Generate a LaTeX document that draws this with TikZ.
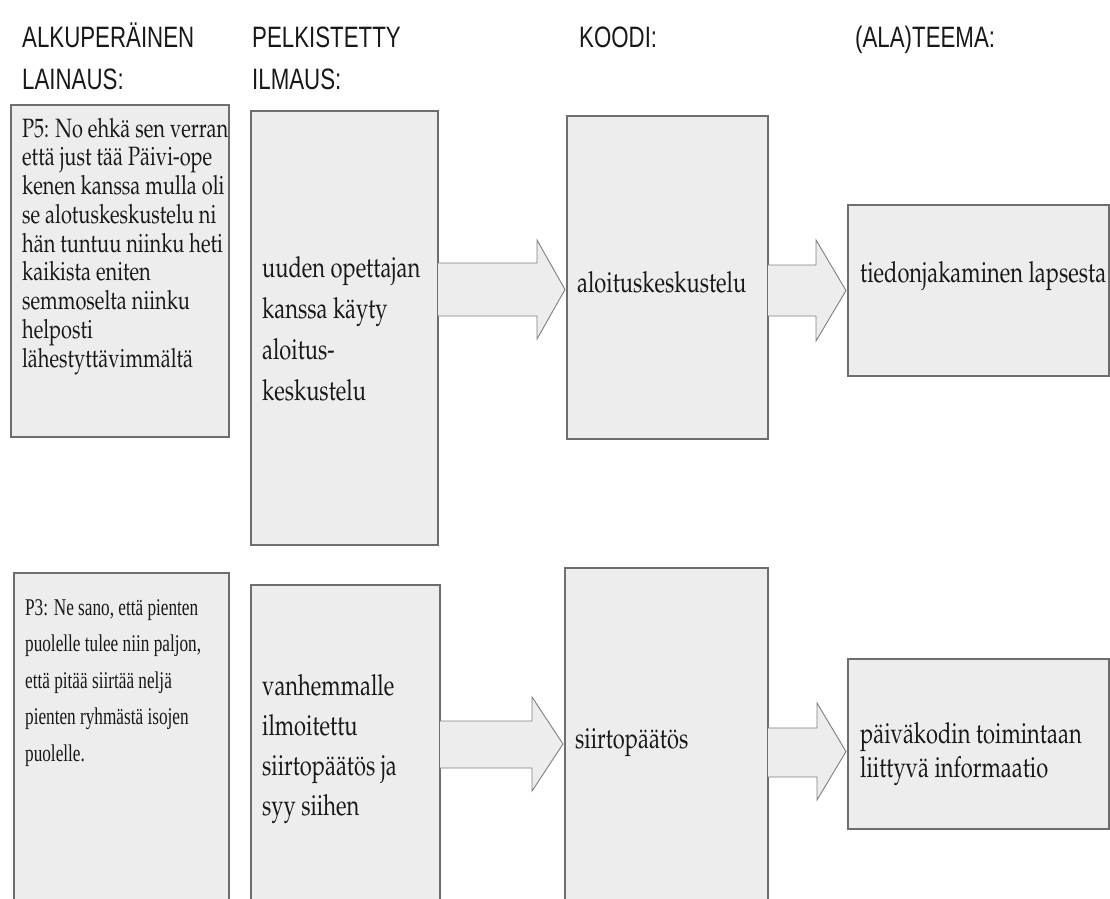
\documentclass[tikz,border=0pt]{standalone}
\usepackage{fontspec}
\usepackage[T1,TU]{fontenc}
\usetikzlibrary{calc}

% column headings: narrowed grotesque
\newfontfamily\headfont[FakeStretch=0.755]{Liberation Sans}
% second quotation: roman, a little narrower than the book face
\newfontfamily\quotefont[FakeStretch=0.95]{Liberation Serif}
% fallback roman for the cell texts
\newfontfamily\bookalt[FakeStretch=1.08]{Liberation Serif}
% Palatino-like book face for the cell texts (whichever is available)
\IfFileExists{t1ppl.fd}{\def\palfam{ppl}}{%
  \IfFileExists{t1qpl.fd}{\def\palfam{qpl}}{\def\palfam{}}}
\makeatletter
\ifx\palfam\@empty
  \newcommand\palfont[2]{\bookalt\fontsize{#1}{#2}\selectfont\lineskiplimit=-50pt}
\else
  \newcommand\palfont[2]{\fontencoding{T1}\fontfamily{\palfam}\fontsize{#1}{#2}\selectfont\lineskiplimit=-50pt}
\fi
\makeatother

\definecolor{boxfill}{HTML}{EDEDED}
\definecolor{boxline}{HTML}{6E6E6E}
\definecolor{arrowline}{HTML}{7F7F7F}
\definecolor{ink}{HTML}{181818}

\tikzset{
  cell/.style={draw=boxline, fill=boxfill, line width=1.3pt, rectangle,
    inner sep=0pt, outer sep=0pt, anchor=north west},
  flowarrow/.style={draw=arrowline, fill=boxfill, line width=0.9pt, line join=miter},
  heading/.style={anchor=north west, inner sep=0pt, align=left, text=ink,
    font=\headfont\fontsize{29.5}{42}\selectfont},
  celltext/.style={anchor=north west, inner sep=0pt, align=left, text=ink},
}

% a grey cell: name, left x, top y, width, height
\newcommand\cellbox[5]{\node[cell, minimum width=#4pt, minimum height=#5pt] (#1) at (#2,#3) {};}

% text of a cell, set narrow: name, font, left x, first baseline y, lines
\newcommand\celltext[5]{%
  \begin{scope}[shift={(#3,#4)}, xscale=0.755]
    \node[celltext, font=#2, transform shape] (#1) at (0,-30) {\rule{0pt}{30pt}#5};
  \end{scope}}

% block arrow from one cell to the next:
% from, to, shaft top, shaft bottom, head top, head bottom, head length
\newcommand\blockarrow[7]{%
  \draw[flowarrow] let \p1=(#1.east), \p2=(#2.west) in
    (\x1,-#3pt) -- (\x2-#7pt-2pt,-#3pt) -- (\x2-#7pt-2pt,-#5pt)
    -- (\x2-2pt,{-(#5+#6)/2*1pt}) -- (\x2-#7pt-2pt,-#6pt)
    -- (\x2-#7pt-2pt,-#4pt) -- (\x1,-#4pt);}

\begin{document}
\begin{tikzpicture}[x=1pt, y=-1pt]
\useasboundingbox (0,0) rectangle (1110,898);

% column headings
\node[heading] (h1) at (22,17)  {\rule{0pt}{30pt}ALKUPERÄINEN\\LAINAUS:};
\node[heading] (h2) at (252,17) {\rule{0pt}{30pt}PELKISTETTY\\ILMAUS:};
\node[heading] (h3) at (579,17) {\rule{0pt}{30pt}KOODI:};
\node[heading] (h4) at (855,17) {\rule{0pt}{30pt}(ALA)TEEMA:};

% first row
\cellbox{a1}{11}{105}{218}{332}
\cellbox{b1}{251}{111}{187}{434}
\cellbox{c1}{567}{116}{201}{323}
\cellbox{d1}{848}{205}{261}{171}

% second row (runs past the lower edge)
\cellbox{a2}{14}{573}{215}{340}
\cellbox{b2}{251}{585}{189}{330}
\cellbox{c2}{565}{568}{203}{345}
\cellbox{d2}{848}{659}{261}{170}

% arrows
\blockarrow{b1}{c1}{263}{316}{240}{339}{28}
\blockarrow{c1}{d1}{265}{316}{240}{341}{30}
\blockarrow{b2}{c2}{721}{768}{697}{791}{31}
\blockarrow{c2}{d2}{728}{777}{703}{800}{29}

% cell texts, first row
\celltext{a1t}{\palfont{26.5}{28.75}}{22}{137}{P5: No ehkä sen verran\\että just tää Päivi-ope\\kenen kanssa mulla oli\\se alotuskeskustelu ni\\hän tuntuu niinku heti\\kaikista eniten\\semmoselta niinku\\helposti\\lähestyttävimmältä}
\celltext{b1t}{\palfont{29}{41}}{262}{277}{uuden opettajan\\kanssa käyty\\aloitus-\\keskustelu}
\celltext{c1t}{\palfont{29}{30}}{577}{292}{aloituskeskustelu}
\celltext{d1t}{\palfont{29}{30}}{860}{282}{tiedonjakaminen lapsesta}

% cell texts, second row
\celltext{a2t}{\quotefont\fontsize{24}{36.5}\selectfont}{25}{615}{P3: Ne sano, että pienten\\puolelle tulee niin paljon,\\että pitää siirtää neljä\\pienten ryhmästä isojen\\puolelle.}
\celltext{b2t}{\palfont{29}{40}}{262}{695}{vanhemmalle\\ilmoitettu\\siirtopäätös ja\\syy siihen}
\celltext{c2t}{\palfont{29}{30}}{575}{748}{siirtopäätös}
\celltext{d2t}{\palfont{29}{34}}{860}{743}{päiväkodin toimintaan\\liittyvä informaatio}
\end{tikzpicture}
\end{document}
